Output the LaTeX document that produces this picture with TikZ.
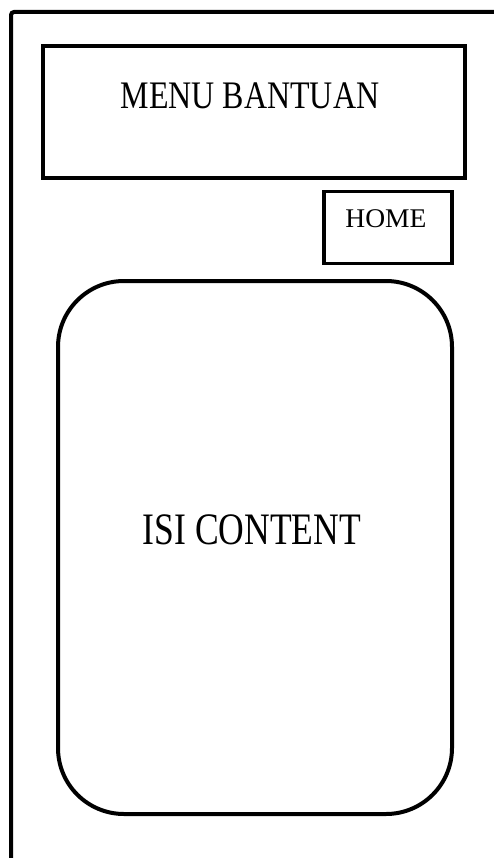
\documentclass[tikz,border=0pt]{standalone}
\usepackage{fontspec}
\setmainfont{Liberation Serif}
\begin{document}
\begin{tikzpicture}[x=1pt,y=-1pt,
  boxline/.style={draw=black,line width=4pt},
  lbl/.style={font=#1,text=black,inner sep=0pt}]
\useasboundingbox (0,0) rectangle (494,858);
\fill[white] (0,0) rectangle (494,858);
% outer frame
\draw[line width=4pt,rounded corners=3pt] (11,860) -- (11,12) -- (496,12);
% boxes
\node[boxline,rectangle,minimum width=422pt,minimum height=132pt,anchor=north west,inner sep=0pt] (menu) at (41,44) {};
\node[lbl={\fontsize{39}{44}\selectfont}] (menutxt) at (250,96) {\scalebox{0.82}[1]{MENU BANTUAN}};
\node[boxline,line width=3.5pt,rectangle,minimum width=128pt,minimum height=72pt,anchor=north west,inner sep=0pt] (home) at (322,190) {};
\node[lbl={\fontsize{27}{30}\selectfont}] (hometxt) at (386,219) {\scalebox{1.02}[1]{HOME}};
\node[boxline,rectangle,rounded corners=66pt,minimum width=394pt,minimum height=533pt,anchor=north west,inner sep=0pt] (content) at (56,279) {};
\node[lbl={\fontsize{45}{50}\selectfont}] (contenttxt) at (252,530) {\scalebox{0.79}[1]{ISI CONTENT}};
\end{tikzpicture}
\end{document}
